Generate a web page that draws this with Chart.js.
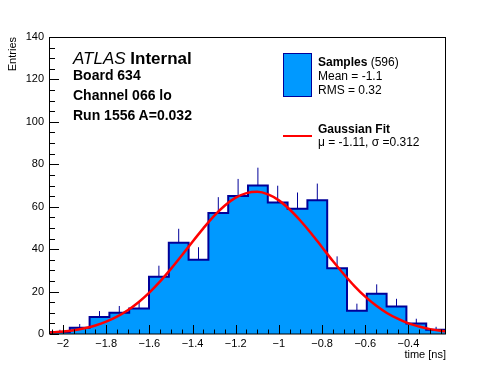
<!DOCTYPE html>
<html><head><meta charset="utf-8">
<script src="https://cdn.jsdelivr.net/npm/chart.js@4.4.0/dist/chart.umd.min.js"></script>
<style>
html,body{margin:0;padding:0;background:#fff;}
#wrap{position:relative;width:496px;height:372px;font-family:"Liberation Sans",Arial,Helvetica,sans-serif;overflow:hidden;}
canvas{position:absolute;left:0;top:0;}
.t{position:absolute;white-space:nowrap;color:#000;line-height:1;}
.sw{position:absolute;}
</style></head><body>
<div id="wrap">
<canvas id="c" width="496" height="372"></canvas>
<div class="t" style="left:73px;top:50px;font-size:17px"><i>ATLAS</i> <b>Internal</b></div>
<div class="t" style="left:73px;top:68.4px;font-size:14px;font-weight:bold">Board 634</div>
<div class="t" style="left:73px;top:88.2px;font-size:14px;font-weight:bold">Channel 066 lo</div>
<div class="t" style="left:73px;top:108.2px;font-size:14px;font-weight:bold">Run 1556 A=0.032</div>
<div class="sw" style="left:283px;top:53px;width:27px;height:42px;background:#0099ff;border:1px solid #000099"></div>
<div class="t" style="left:318px;top:55.5px;font-size:12px"><b>Samples</b> (596)</div>
<div class="t" style="left:318px;top:69.8px;font-size:12px">Mean = -1.1</div>
<div class="t" style="left:318px;top:83.8px;font-size:12px">RMS = 0.32</div>
<div class="sw" style="left:283px;top:135px;width:29px;height:2px;background:#ff0000"></div>
<div class="t" style="left:318px;top:123.1px;font-size:12px;font-weight:bold">Gaussian Fit</div>
<div class="t" style="left:318px;top:135.8px;font-size:12px">μ = -1.11, σ =0.312</div>
</div>
<script>
// ---- data ----
const binLow = -2.06;
const binHigh = -0.226;
const counts = [1, 3, 8, 10, 12, 27, 43, 35, 57, 65, 70, 62, 59, 63, 31, 11, 19, 13, 5, 2];
const errors = [1.0, 1.7, 2.8, 3.2, 3.5, 5.2, 6.6, 5.9, 7.5, 8.1, 8.4, 7.9, 7.7, 7.9, 5.6, 3.3, 4.4, 3.6, 2.2, 1.4];
const fitX = [-2.06, -2.00, -1.95, -1.90, -1.85, -1.80, -1.75, -1.70, -1.65, -1.60, -1.55, -1.50, -1.45, -1.40, -1.35, -1.30, -1.25, -1.20, -1.15, -1.10, -1.05, -1.00, -0.95, -0.90, -0.85, -0.80, -0.75, -0.70, -0.65, -0.60, -0.55, -0.50, -0.45, -0.40, -0.35, -0.30, -0.25, -0.226];
const fitY = [0.65, 1.15, 1.79, 2.71, 4.02, 5.81, 8.17, 11.2, 15.0, 19.5, 24.8, 30.7, 37.0, 43.5, 49.8, 55.7, 60.6, 64.3, 66.4, 67.0, 65.8, 63.0, 58.7, 53.4, 47.4, 40.9, 34.4, 28.3, 22.6, 17.6, 13.4, 9.9, 7.2, 5.0, 3.5, 2.3, 1.5, 1.21];
const xTicks = [-2, -1.8, -1.6, -1.4, -1.2, -1, -0.8, -0.6, -0.4];
const yTicks = [0, 20, 40, 60, 80, 100, 120, 140];

// ---- build datasets ----
const nb = counts.length;
const bw = (binHigh - binLow) / nb;
const edges = [];
for (let i = 0; i <= nb; i++) edges.push(binLow + i * bw);
const histPts = [{x: edges[0], y: 0}];
counts.forEach((c, i) => { histPts.push({x: edges[i], y: c}); histPts.push({x: edges[i + 1], y: c}); });
histPts.push({x: edges[nb], y: 0});
const errPts = [];
counts.forEach((c, i) => {
  const xc = edges[i] + bw / 2;
  errPts.push({x: xc, y: c}, {x: xc, y: c + errors[i]}, {x: xc, y: NaN});
});
const fitPts = fitX.map((x, i) => ({x: x, y: fitY[i]}));

const fmt = v => (v < 0 ? '\u2212' : '') + String(Math.round(Math.abs(v) * 100) / 100);

const rootAxes = {
  id: 'rootAxes',
  afterDatasetsDraw(chart) {
    const {ctx, chartArea: a, scales: {x, y}} = chart;
    ctx.save();
    ctx.strokeStyle = '#000';
    ctx.lineWidth = 1;
    ctx.beginPath();
    const kx0 = Math.ceil(binLow / 0.05 - 1e-6), kx1 = Math.floor(binHigh / 0.05 + 1e-6);
    for (let k = kx0; k <= kx1; k++) {
      const px = Math.round(x.getPixelForValue(k * 0.05)) + 0.5;
      const len = (k % 4 === 0) ? 9 : 4.5;
      ctx.moveTo(px, a.bottom);
      ctx.lineTo(px, a.bottom - len);
    }
    for (let k = 0; k <= 28; k++) {
      const py = Math.round(y.getPixelForValue(k * 5)) + 0.5;
      const len = (k % 4 === 0) ? 9 : 5;
      ctx.moveTo(a.left, py);
      ctx.lineTo(a.left + len, py);
    }
    ctx.stroke();
    ctx.strokeRect(Math.round(a.left) - 0.5, Math.round(a.top) + 0.5, Math.round(a.right - a.left), Math.round(a.bottom - a.top) - 0.5);
    ctx.restore();
  }
};

new Chart(document.getElementById('c'), {
  type: 'line',
  data: {
    datasets: [
      {data: histPts, borderColor: '#000099', borderWidth: 2, backgroundColor: '#0099ff', fill: 'origin', pointRadius: 0, tension: 0, order: 3},
      {data: errPts, borderColor: '#000099', borderWidth: 1, pointRadius: 0, fill: false, spanGaps: false, order: 2},
      {data: fitPts, borderColor: '#ff0000', borderWidth: 2.5, pointRadius: 0, fill: false, cubicInterpolationMode: 'monotone', order: 1}
    ]
  },
  options: {
    responsive: false,
    animation: false,
    devicePixelRatio: 1,
    layout: {padding: {top: 37, right: 50, left: 0, bottom: 0}},
    plugins: {legend: {display: false}, tooltip: {enabled: false}},
    scales: {
      x: {
        type: 'linear', min: binLow, max: binHigh,
        grid: {display: false, drawTicks: false},
        border: {display: false},
        afterBuildTicks: s => { s.ticks = xTicks.map(v => ({value: v})); },
        afterFit: s => { s.height = 38; },
        ticks: {color: '#000', font: {family: 'Liberation Sans', size: 11}, padding: 3, autoSkip: false, maxRotation: 0, callback: v => fmt(v)},
        title: {display: true, text: 'time [ns]', align: 'end', color: '#000', font: {family: 'Liberation Sans', size: 11}, padding: {top: 0, bottom: 10}}
      },
      y: {
        type: 'linear', min: 0, max: 140,
        grid: {display: false, drawTicks: false},
        border: {display: false},
        afterBuildTicks: s => { s.ticks = yTicks.map(v => ({value: v})); },
        afterFit: s => { s.width = 50; },
        ticks: {color: '#000', font: {family: 'Liberation Sans', size: 11}, padding: 6, callback: v => fmt(v)},
        title: {display: true, text: 'Entries', align: 'end', color: '#000', font: {family: 'Liberation Sans', size: 11}, padding: {top: 6, bottom: 0}}
      }
    }
  },
  plugins: [rootAxes]
});
</script>
</body></html>
